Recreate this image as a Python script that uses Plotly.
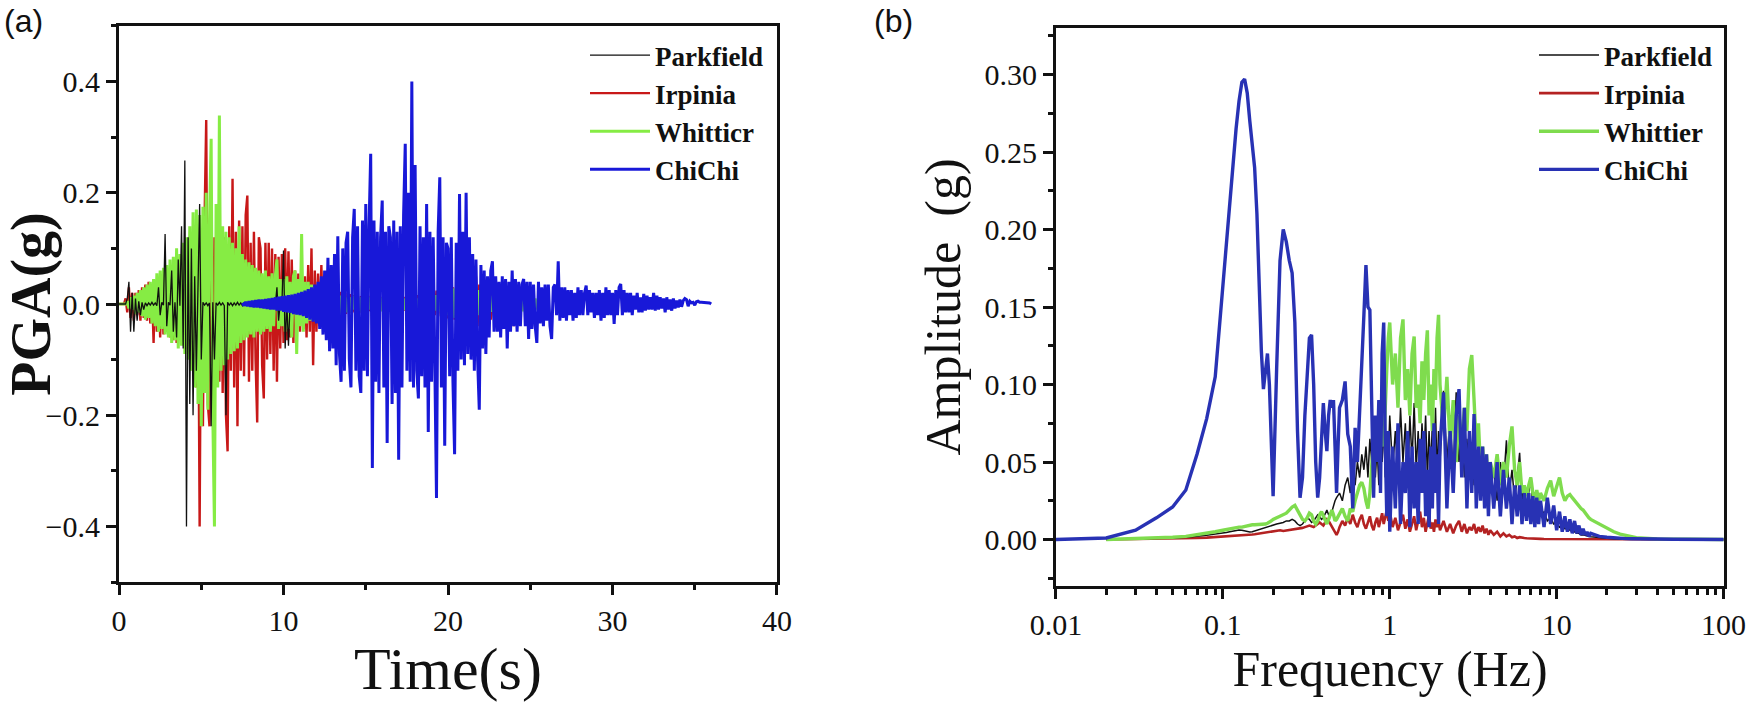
import plotly.graph_objects as go

# time step of the acceleration records (s)
DT = 0.1
CHICHI_T0 = 7.5

PARKFIELD_PGA = [
    0, 0, 0, 0, 0, 0.01, 0.04, -0.05, 0.02, -0.05,
    0.01, -0.03, 0.005, -0.02, 0.003, -0.01, 0.002, -0.003, 0.002, -0.002,
    0.003, -0.002, 0.002, -0.003, 0.03, -0.02, 0.003, -0.002, 0.126, -0.04,
    0.003, -0.002, 0.06, -0.05, 0.003, -0.06, 0.08, -0.003, 0.14, -0.08,
    0.258, -0.4, 0.12, -0.18, 0.1, -0.2, 0.05, -0.12, 0.003, 0.18,
    -0.1, 0.003, -0.002, 0.002, -0.003, 0.002, -0.22, 0.003, -0.1, 0.002,
    -0.002, 0.003, -0.002, 0.002, -0.003, -0.2, 0.003, -0.002, 0.002, -0.003,
    0.002, -0.002, 0.003, -0.002, 0.002, -0.003, 0.002, -0.002, 0.002, -0.002,
    0.003, -0.002, 0.002, -0.003, 0.002, -0.002, 0.003, -0.002, 0.002, -0.003,
    0.002, -0.003, 0.002, -0.002, 0.003, -0.002, 0.03, -0.03, 0.002, -0.002,
    0.096, -0.08, 0.003, -0.075, 0.002, -0.002, 0.003, -0.002, 0.002, -0.002,
    0.002, -0.002, 0.002, -0.002, 0.002, -0.002, 0.001, -0.001, 0.001, -0.001,
    0.001, -0.001, 0.001, -0.001, 0.001, -0.001, 0.001, -0.001, 0.001, 0.0,
]

IRPINIA_PGA = [
    0, 0, 0, 0, 0.01, -0.015, 0.03, -0.025, 0.02, -0.03,
    0.02, -0.02, 0.025, -0.03, 0.03, -0.025, 0.035, -0.03, 0.04, -0.035,
    0.03, -0.07, 0.04, -0.05, 0.045, -0.06, 0.05, -0.055, 0.06, -0.05,
    0.055, -0.06, 0.06, -0.065, 0.05, -0.07, 0.065, -0.06, 0.07, -0.065,
    0.075, -0.08, 0.08, -0.1, 0.09, -0.12, 0.1, -0.15, 0.12, -0.4,
    0.13, -0.22, 0.15, 0.331, -0.18, -0.22, 0.1, -0.15, 0.12, -0.13,
    0.11, -0.14, 0.13, -0.16, 0.12, -0.2, -0.265, 0.14, -0.12, 0.225,
    -0.15, 0.13, -0.22, 0.15, -0.12, 0.14, -0.13, 0.16, 0.195, -0.14,
    0.11, -0.12, 0.13, -0.1, -0.213, 0.12, 0.1, -0.11, -0.17, 0.11,
    -0.1, 0.11, -0.09, 0.1, -0.12, 0.09, -0.14, 0.085, -0.08, 0.09,
    -0.07, 0.1, -0.065, 0.095, -0.06, 0.08, -0.07, 0.06, -0.05, 0.055,
    -0.05, 0.06, -0.045, 0.05, -0.06, 0.07, -0.05, 0.1, -0.11, 0.06,
    -0.05, 0.055, -0.04, 0.07, -0.035, 0.04, -0.03, 0.035, -0.028, 0.03,
    -0.025, 0.028, -0.022, 0.025, -0.02, 0.022, -0.02, 0.02, -0.018, 0.02,
    -0.016, 0.018, -0.015, 0.016, -0.014, 0.015, -0.016, 0.014, -0.012, 0.015,
    -0.014, 0.012, -0.013, 0.015, -0.012, 0.013, -0.015, 0.012, -0.014, 0.013,
    -0.012, 0.014, -0.013, 0.012, -0.014, 0.015, -0.012, 0.013, -0.015, 0.014,
    -0.013, 0.015, -0.014, 0.013, -0.012, 0.014, -0.013, 0.015, -0.014, 0.012,
    -0.015, 0.016, -0.014, 0.018, -0.016, 0.017, -0.018, 0.02, -0.017, 0.019,
    -0.02, 0.022, -0.02, 0.024, -0.022, 0.025, -0.024, 0.026, -0.025, 0.028,
    -0.026, 0.028, -0.025, 0.03, -0.028, 0.027, -0.03, 0.032, 0.03, -0.028,
    0.03, -0.032, 0.028, -0.03, 0.032, -0.03, 0.035, 0.05, -0.04, 0.035,
    -0.04, 0.03, -0.035, 0.028, -0.03, 0.025, -0.028, 0.022, -0.025, 0.02,
    -0.022, 0.02, -0.02, 0.018, -0.02, 0.016, -0.025, 0.018, -0.03, 0.02,
    -0.04, 0.022, -0.02, 0.015, -0.012, 0.01, -0.008, 0.006, -0.004, 0.0,
]

WHITTIER_PGA = [
    0, 0, 0, 0, 0, 0.005, -0.008, 0.012, -0.01, 0.015,
    -0.018, 0.02, -0.015, 0.025, -0.022, 0.03, -0.028, 0.035, -0.025, 0.04,
    -0.035, 0.045, -0.04, 0.055, -0.05, 0.06, -0.045, 0.065, -0.055, 0.07,
    -0.06, 0.08, -0.07, 0.085, -0.065, 0.1, -0.08, 0.09, -0.075, 0.11,
    -0.09, 0.12, -0.1, 0.14, -0.12, 0.165, -0.15, 0.17, -0.18, 0.16,
    -0.22, 0.175, -0.16, 0.2, -0.19, 0.15, 0.297, -0.2, -0.4, 0.18,
    -0.15, 0.339, -0.12, 0.14, -0.11, 0.13, -0.1, 0.12, -0.09, 0.11,
    -0.085, 0.1, -0.08, 0.14, -0.07, 0.09, -0.065, 0.08, -0.06, 0.075,
    -0.055, 0.07, -0.06, 0.065, -0.05, 0.06, -0.055, 0.055, -0.05, 0.06,
    -0.045, 0.05, -0.05, 0.055, -0.04, 0.05, 0.08, -0.045, 0.045, -0.04,
    0.045, -0.05, 0.05, -0.045, 0.04, -0.06, 0.05, 0.06, -0.09, 0.045,
    -0.04, 0.126, -0.05, 0.04, -0.035, 0.04, -0.03, 0.035, -0.03, 0.03,
    -0.025, 0.03, -0.025, 0.028, -0.02, 0.025, -0.022, 0.02, -0.02, 0.022,
    -0.018, 0.02, -0.015, 0.018, -0.02, 0.015, -0.012, 0.018, -0.015, 0.012,
    -0.015, 0.012, -0.01, 0.015, -0.012, 0.01, -0.015, 0.012, -0.01, 0.012,
    -0.012, 0.015, -0.01, 0.012, -0.014, 0.01, -0.012, 0.014, -0.01, 0.012,
    -0.013, 0.011, -0.012, 0.014, -0.01, 0.012, -0.011, 0.01, -0.013, 0.012,
    -0.01, 0.013, -0.012, 0.01, -0.011, 0.014, -0.012, 0.011, -0.01, 0.012,
    -0.012, 0.01, -0.013, 0.012, -0.01, 0.015, -0.012, 0.013, -0.014, 0.012,
    -0.015, 0.014, -0.012, 0.016, -0.014, 0.018, -0.015, 0.02, -0.018, 0.022,
    -0.02, 0.025, -0.022, 0.028, -0.025, 0.03, -0.028, 0.035, 0.04, -0.035,
    0.045, -0.04, 0.035, -0.045, 0.04, -0.03, 0.03, -0.025, 0.025, -0.02,
    0.02, -0.018, 0.018, -0.015, 0.016, -0.015, 0.015, -0.014, 0.014, -0.012,
    0.015, -0.013, 0.012, -0.014, 0.013, -0.012, 0.012, -0.01, 0.013, -0.011,
    0.012, -0.012, 0.014, -0.01, 0.015, -0.013, 0.018, -0.015, 0.02, 0.03,
    -0.02, 0.015, -0.012, 0.01, -0.01, 0.008, -0.006, 0.005, -0.004, 0.0,
]

CHICHI_PGA = [
    0.002, -0.003, 0.004, -0.004, 0.005,
    -0.005, 0.006, -0.006, 0.007, -0.006, 0.008, -0.007, 0.008, -0.008, 0.009,
    -0.009, 0.01, -0.01, 0.011, -0.01, 0.012, -0.012, 0.013, -0.012, 0.014,
    -0.014, 0.015, -0.015, 0.016, -0.016, 0.017, -0.018, 0.018, -0.019, 0.02,
    -0.02, 0.022, -0.022, 0.024, -0.025, 0.027, -0.028, 0.03, -0.032, 0.035,
    -0.035, 0.04, -0.045, 0.05, -0.055, 0.06, -0.065, 0.083, -0.085, 0.07,
    -0.08, 0.09, -0.11, 0.122, -0.09, -0.14, 0.1, -0.12, 0.11, 0.13,
    -0.1, -0.15, 0.12, 0.171, -0.12, 0.14, -0.13, -0.16, 0.15, -0.12,
    0.18, -0.13, 0.14, 0.27, -0.295, 0.15, -0.14, 0.13, -0.16, 0.12,
    0.186, -0.15, 0.13, -0.25, 0.14, 0.12, -0.18, 0.15, -0.16, 0.13,
    -0.28, 0.14, -0.15, 0.16, 0.288, -0.12, 0.2, -0.14, 0.4, -0.15,
    0.25, -0.12, -0.17, 0.14, -0.13, 0.12, -0.15, 0.18, -0.23, 0.13,
    -0.14, 0.12, -0.16, -0.349, 0.13, 0.228, -0.15, 0.12, -0.255, 0.11,
    0.1, -0.13, 0.12, -0.14, -0.27, 0.11, -0.12, 0.198, -0.1, 0.13,
    -0.11, 0.2, -0.09, 0.12, -0.1, 0.09, -0.12, 0.08, -0.1, -0.19,
    0.07, -0.08, 0.06, -0.09, 0.05, -0.06, 0.06, 0.077, -0.05, 0.05,
    -0.05, 0.04, -0.06, 0.05, -0.045, 0.045, -0.08, 0.04, -0.05, 0.06,
    -0.04, 0.045, -0.05, 0.04, -0.04, 0.035, 0.045, -0.04, 0.04, -0.063,
    0.04, -0.045, 0.035, -0.04, -0.07, 0.04, -0.035, 0.03, -0.04, 0.035,
    -0.03, 0.035, -0.04, -0.063, 0.03, 0.035, -0.02, 0.077, -0.03, 0.03,
    -0.025, 0.03, -0.03, 0.025, -0.02, 0.025, -0.03, 0.02, -0.025, 0.03,
    -0.02, 0.025, -0.02, 0.02, 0.033, -0.02, 0.025, -0.015, 0.02, -0.025,
    0.02, -0.02, 0.025, -0.03, 0.02, -0.025, 0.03, -0.02, 0.025, -0.02,
    0.02, -0.036, 0.025, -0.02, 0.03, 0.036, -0.02, 0.025, -0.015, 0.02,
    -0.015, 0.02, -0.02, 0.015, -0.01, 0.02, -0.015, 0.012, -0.015, 0.018,
    -0.012, 0.015, -0.01, 0.012, -0.01, 0.02, -0.012, 0.015, -0.01, 0.012,
    -0.008, 0.01, -0.015, 0.012, -0.01, 0.008, -0.012, 0.01, -0.008, 0.006,
    -0.006, 0.008, -0.005, 0.006, 0.01, 0.008, -0.004, 0.005, 0.002, 0.003,
    -0.002, 0.004, 0.005, 0.003, 0.003, 0.003, 0.003, 0.002, 0.002, 0.002,
    0.0,
]

FREQ_HZ = [
    0.01, 0.02, 0.03, 0.04, 0.05, 0.06, 0.07, 0.08, 0.09,
    0.100, 0.105, 0.110, 0.115, 0.120, 0.125, 0.130, 0.135, 0.140, 0.145,
    0.150, 0.155, 0.160, 0.165, 0.170, 0.175, 0.180, 0.185, 0.190, 0.195,
    0.20, 0.21, 0.22, 0.23, 0.24, 0.25, 0.26, 0.27, 0.28, 0.29,
    0.30, 0.31, 0.32, 0.33, 0.34, 0.35, 0.36, 0.37, 0.38, 0.39,
    0.40, 0.41, 0.42, 0.43, 0.44, 0.45, 0.46, 0.47, 0.48, 0.49,
    0.50, 0.52, 0.54, 0.56, 0.58, 0.60, 0.62, 0.64, 0.66, 0.68, 0.70, 0.72, 0.74,
    0.76, 0.78, 0.80, 0.82, 0.84, 0.86, 0.88, 0.90, 0.92, 0.94, 0.96, 0.98,
    1.00, 1.04, 1.08, 1.12, 1.16, 1.20, 1.24, 1.28, 1.32, 1.36, 1.40, 1.44, 1.48,
    1.52, 1.56, 1.60, 1.64, 1.68, 1.72, 1.76, 1.80, 1.84, 1.88, 1.92, 1.96,
    2.0, 2.1, 2.2, 2.3, 2.4, 2.5, 2.6, 2.7, 2.8, 2.9,
    3.0, 3.1, 3.2, 3.3, 3.4, 3.5, 3.6, 3.7, 3.8, 3.9,
    4.0, 4.2, 4.4, 4.6, 4.8, 5.0, 5.2, 5.4, 5.6, 5.8,
    6.0, 6.2, 6.4, 6.6, 6.8, 7.0, 7.2, 7.4, 7.6, 7.8,
    8.0, 8.4, 8.8, 9.2, 9.6, 10.0, 10.4, 10.8, 11.2, 11.6,
    12.0, 12.4, 12.8, 13.2, 13.6, 14.0, 14.4, 14.8, 15.2, 15.6,
    16, 18, 20, 22, 24, 26, 28,
    30, 40, 50, 60, 70, 80, 90, 100,
]

PARKFIELD_FAS = [
    None, 0.0, 0.0003, 0.0006, 0.001, 0.0015, 0.002, 0.0028, 0.0035,
    0.004, 0.0045, 0.005, 0.0055, 0.006, 0.0062, 0.006, 0.0055, 0.005, 0.0048,
    0.005, 0.0055, 0.006, 0.0065, 0.007, 0.0075, 0.008, 0.0082, 0.0085, 0.009,
    0.0095, 0.01, 0.0105, 0.011, 0.012, 0.012, 0.013, 0.012, 0.01, 0.009,
    0.01, 0.012, 0.014, 0.013, 0.011, 0.012, 0.014, 0.016, 0.015, 0.013,
    0.014, 0.017, 0.019, 0.016, 0.015, 0.018, 0.022, 0.025, 0.027, 0.029,
    0.03, 0.025, 0.035, 0.04, 0.03, 0.045, 0.035, 0.05, 0.04, 0.055, 0.045, 0.06, 0.04,
    0.065, 0.05, 0.07, 0.04, 0.06, 0.035, 0.065, 0.05, 0.075, 0.04, 0.07, 0.05,
    0.08, 0.045, 0.07, 0.04, 0.085, 0.05, 0.075, 0.035, 0.08, 0.05, 0.088, 0.045, 0.07,
    0.04, 0.075, 0.05, 0.08, 0.04, 0.07, 0.045, 0.075, 0.05, 0.085, 0.04, 0.07,
    0.05, 0.096, 0.05, 0.08, 0.04, 0.095, 0.05, 0.07, 0.04, 0.065,
    0.04, 0.06, 0.035, 0.055, 0.03, 0.05, 0.03, 0.045, 0.025, 0.04,
    0.03, 0.045, 0.025, 0.05, 0.035, 0.064, 0.03, 0.045, 0.025, 0.04,
    0.056, 0.025, 0.035, 0.02, 0.03, 0.04, 0.02, 0.025, 0.015, 0.02,
    0.015, 0.018, 0.012, 0.014, 0.01, 0.011, 0.008, 0.009, 0.007, 0.007,
    0.006, 0.005, 0.005, 0.004, 0.004, 0.003, 0.003, 0.0025, 0.002, 0.002,
    0.0018, 0.0012, 0.0008, 0.0005, 0.0004, 0.0003, 0.0002,
    0.0001, 0.0, 0.0, 0.0, 0.0, 0.0, 0.0, 0.0,
]

IRPINIA_FAS = [
    None, 0.0, 0.0002, 0.0004, 0.0006, 0.0008, 0.001, 0.0012, 0.0015,
    0.0018, 0.002, 0.0022, 0.0024, 0.0025, 0.0026, 0.0027, 0.0028, 0.003, 0.003,
    0.0032, 0.0034, 0.0036, 0.0038, 0.004, 0.0042, 0.0045, 0.0048, 0.005, 0.0052,
    0.0052, 0.0055, 0.006, 0.0055, 0.0058, 0.006, 0.0062, 0.0065, 0.0068, 0.007,
    0.0075, 0.008, 0.0085, 0.009, 0.0085, 0.008, 0.009, 0.01, 0.011, 0.01,
    0.009, 0.011, 0.013, 0.012, 0.01, 0.008, 0.006, 0.004, 0.003, 0.005,
    0.008, 0.012, 0.009, 0.014, 0.01, 0.016, 0.011, 0.008, 0.013, 0.016, 0.01, 0.007, 0.012,
    0.015, 0.009, 0.006, 0.011, 0.014, 0.008, 0.012, 0.017, 0.01, 0.015, 0.019, 0.012,
    0.018, 0.008, 0.014, 0.006, 0.012, 0.016, 0.007, 0.013, 0.005, 0.011, 0.015, 0.006, 0.012,
    0.018, 0.008, 0.014, 0.005, 0.012, 0.016, 0.007, 0.011, 0.005, 0.013, 0.008, 0.012,
    0.006, 0.012, 0.005, 0.01, 0.004, 0.009, 0.012, 0.005, 0.01, 0.004,
    0.008, 0.006, 0.01, 0.004, 0.008, 0.005, 0.009, 0.004, 0.007, 0.003,
    0.006, 0.003, 0.005, 0.002, 0.004, 0.002, 0.003, 0.0015, 0.002, 0.001,
    0.0015, 0.001, 0.001, 0.0008, 0.0008, 0.0006, 0.0006, 0.0005, 0.0005, 0.0004,
    0.0004, 0.0003, 0.0003, 0.0003, 0.0002, 0.0002, 0.0002, 0.0002, 0.0002, 0.0002,
    0.0001, 0.0001, 0.0001, 0.0001, 0.0001, 0.0001, 0.0001, 0.0001, 0.0001, 0.0001,
    0.0001, 0.0001, 0.0001, 0.0001, 0.0, 0.0, 0.0,
    0.0, 0.0, 0.0, 0.0, 0.0, 0.0, 0.0, 0.0,
]

WHITTIER_FAS = [
    None, 0.0, 0.0005, 0.001, 0.0015, 0.002, 0.003, 0.004, 0.005,
    0.006, 0.0065, 0.007, 0.007, 0.0075, 0.008, 0.008, 0.0085, 0.009, 0.009,
    0.0095, 0.0095, 0.0095, 0.01, 0.01, 0.01, 0.01, 0.0105, 0.011, 0.012,
    0.013, 0.014, 0.015, 0.016, 0.017, 0.019, 0.021, 0.022, 0.019, 0.016,
    0.013, 0.012, 0.014, 0.017, 0.016, 0.012, 0.01, 0.012, 0.016, 0.018,
    0.015, 0.012, 0.01, 0.013, 0.017, 0.019, 0.016, 0.012, 0.013, 0.015,
    0.017, 0.02, 0.015, 0.012, 0.02, 0.018, 0.025, 0.03, 0.035, 0.037, 0.033, 0.025, 0.02,
    0.03, 0.05, 0.065, 0.078, 0.076, 0.06, 0.07, 0.075, 0.06, 0.09, 0.11, 0.13,
    0.14, 0.1, 0.12, 0.085, 0.13, 0.142, 0.09, 0.11, 0.08, 0.12, 0.131, 0.085, 0.1,
    0.075, 0.115, 0.09, 0.12, 0.135, 0.08, 0.1, 0.07, 0.11, 0.09, 0.13, 0.145,
    0.1, 0.07, 0.105, 0.06, 0.09, 0.05, 0.08, 0.06, 0.085, 0.07,
    0.11, 0.119, 0.09, 0.06, 0.075, 0.045, 0.06, 0.04, 0.055, 0.035,
    0.05, 0.04, 0.055, 0.035, 0.05, 0.04, 0.06, 0.073, 0.045, 0.035,
    0.05, 0.03, 0.035, 0.028, 0.035, 0.04, 0.03, 0.025, 0.032, 0.025,
    0.03, 0.025, 0.033, 0.038, 0.028, 0.035, 0.04, 0.03, 0.025, 0.028,
    0.029, 0.027, 0.025, 0.023, 0.022, 0.02, 0.019, 0.017, 0.015, 0.014,
    0.013, 0.01, 0.007, 0.005, 0.0035, 0.0025, 0.0018,
    0.0012, 0.0004, 0.0002, 0.0001, 0.0001, 0.0, 0.0, 0.0,
]

CHICHI_FAS = [
    0.0, 0.001, 0.006, 0.014, 0.021, 0.032, 0.055, 0.078, 0.105,
    0.163, 0.19, 0.22, 0.244, 0.265, 0.283, 0.295, 0.297, 0.288, 0.27,
    0.255, 0.24, 0.21, 0.165, 0.122, 0.097, 0.11, 0.12, 0.1, 0.06,
    0.028, 0.11, 0.18, 0.2, 0.192, 0.18, 0.172, 0.14, 0.07, 0.027,
    0.04, 0.08, 0.11, 0.13, 0.132, 0.1, 0.05, 0.027, 0.04, 0.06,
    0.088, 0.07, 0.057, 0.08, 0.09, 0.085, 0.09, 0.06, 0.03, 0.06,
    0.085, 0.09, 0.102, 0.068, 0.06, 0.02, 0.072, 0.05, 0.08, 0.11, 0.145, 0.177, 0.15,
    0.148, 0.09, 0.027, 0.08, 0.05, 0.09, 0.03, 0.12, 0.14, 0.06, 0.015, 0.07,
    0.005, 0.06, 0.02, 0.075, 0.01, 0.05, 0.03, 0.07, 0.008, 0.06, 0.02, 0.05, 0.01,
    0.065, 0.03, 0.07, 0.015, 0.045, 0.008, 0.06, 0.02, 0.075, 0.03, 0.055, 0.01,
    0.06, 0.095, 0.02, 0.07, 0.03, 0.08, 0.097, 0.04, 0.085, 0.02,
    0.07, 0.03, 0.081, 0.02, 0.06, 0.025, 0.06, 0.02, 0.055, 0.015,
    0.05, 0.02, 0.05, 0.015, 0.045, 0.02, 0.04, 0.01, 0.035, 0.015,
    0.035, 0.01, 0.03, 0.012, 0.03, 0.01, 0.028, 0.008, 0.027, 0.01,
    0.025, 0.008, 0.027, 0.01, 0.022, 0.006, 0.018, 0.005, 0.015, 0.005,
    0.013, 0.004, 0.012, 0.004, 0.009, 0.003, 0.007, 0.003, 0.005, 0.002,
    0.004, 0.002, 0.0015, 0.001, 0.0008, 0.0006, 0.0005,
    0.0004, 0.0003, 0.0002, 0.0002, 0.0001, 0.0001, 0.0001, 0.0,
]

SERIF = "Liberation Serif"
BLACK = "#111111"
W, H = 1748, 702

# panel placement (paper fractions) and axis ranges
LEFT_X = [0.0681, 0.4445]
LEFT_Y = [0.1709, 0.963]
RIGHT_X = [0.6041, 0.9863]
RIGHT_Y = [0.1652, 0.9601]
T_RANGE = [0, 40]
PGA_RANGE = [-0.5, 0.5]
F_RANGE_LOG = [-2, 2.003]
FAS_RANGE = [-0.03, 0.33]

fig = go.Figure()

# (a) acceleration time histories - drawing order: red, green, black, blue
fig.add_trace(go.Scatter(y=IRPINIA_PGA, x0=0, dx=DT, mode="lines", name="Irpinia",
                         line=dict(color="#c81818", width=2.4), legendrank=2, legend="legend"))
fig.add_trace(go.Scatter(y=WHITTIER_PGA, x0=0, dx=DT, mode="lines", name="Whitticr",
                         line=dict(color="#86ec44", width=3), legendrank=3, legend="legend"))
fig.add_trace(go.Scatter(y=PARKFIELD_PGA, x0=0, dx=DT, mode="lines", name="Parkfield",
                         line=dict(color=BLACK, width=1.3), legendrank=1, legend="legend"))
fig.add_trace(go.Scatter(y=CHICHI_PGA, x0=CHICHI_T0, dx=DT, mode="lines", name="ChiChi",
                         line=dict(color="#1818d8", width=3), legendrank=4, legend="legend"))

# (b) Fourier amplitude spectra
fig.add_trace(go.Scatter(x=FREQ_HZ, y=IRPINIA_FAS, mode="lines", name="Irpinia",
                         line=dict(color="#b42222", width=2.6), legendrank=2,
                         xaxis="x2", yaxis="y2", legend="legend2"))
fig.add_trace(go.Scatter(x=FREQ_HZ, y=PARKFIELD_FAS, mode="lines", name="Parkfield",
                         line=dict(color=BLACK, width=1.5), legendrank=1,
                         xaxis="x2", yaxis="y2", legend="legend2"))
fig.add_trace(go.Scatter(x=FREQ_HZ, y=WHITTIER_FAS, mode="lines", name="Whittier",
                         line=dict(color="#7fdc4e", width=3.4), legendrank=3,
                         xaxis="x2", yaxis="y2", legend="legend2"))
fig.add_trace(go.Scatter(x=FREQ_HZ, y=CHICHI_FAS, mode="lines", name="ChiChi",
                         line=dict(color="#2832b4", width=3.4), legendrank=4,
                         xaxis="x2", yaxis="y2", legend="legend2"))

axis_common = dict(
    showline=True, linewidth=3, linecolor=BLACK, mirror=True,
    showgrid=False, zeroline=False,
    ticks="outside", ticklen=10, tickwidth=3, tickcolor=BLACK,
    tickfont=dict(family=SERIF, size=30, color=BLACK),
    automargin=False,
)

# bare axes on the top / right sides, only to close the frame of each panel
frame_axis = dict(
    showline=True, linewidth=3, linecolor=BLACK,
    showgrid=False, zeroline=False, ticks="", showticklabels=False,
    automargin=False, fixedrange=True,
)

legend_common = dict(
    xanchor="left", yanchor="top", bgcolor="rgba(0,0,0,0)",
    font=dict(family=SERIF, size=27, color=BLACK, weight="bold"),
    traceorder="normal", itemwidth=60, tracegroupgap=0,
)

fig.update_layout(
    width=W, height=H,
    margin=dict(l=0, r=0, t=0, b=0, autoexpand=False),
    paper_bgcolor="white", plot_bgcolor="white",
    showlegend=True,
    xaxis=dict(
        axis_common, domain=LEFT_X, range=T_RANGE, dtick=10, tick0=0,
        minor=dict(dtick=5, ticks="outside", ticklen=5, tickwidth=3, tickcolor=BLACK, showgrid=False),
        title=dict(text="Time(s)", font=dict(family=SERIF, size=60, color=BLACK), standoff=8),
        anchor="y",
    ),
    yaxis=dict(
        axis_common, domain=LEFT_Y, range=PGA_RANGE, dtick=0.2, tick0=0,
        tickformat=".1f",
        minor=dict(dtick=0.1, ticks="outside", ticklen=5, tickwidth=3, tickcolor=BLACK, showgrid=False),
        title=dict(text="PGA(g)", font=dict(family=SERIF, size=56, color=BLACK, weight="bold"), standoff=4),
        anchor="x",
    ),
    xaxis2=dict(
        axis_common, type="log", domain=RIGHT_X, range=F_RANGE_LOG,
        tickvals=[0.01, 0.1, 1, 10, 100], ticktext=["0.01", "0.1", "1", "10", "100"],
        minor=dict(dtick="D1", ticks="outside", ticklen=6, tickwidth=3, tickcolor=BLACK, showgrid=False),
        title=dict(text="Frequency\u00a0(Hz)", font=dict(family=SERIF, size=50, color=BLACK), standoff=6),
        anchor="y2",
    ),
    yaxis2=dict(
        axis_common, domain=RIGHT_Y, range=FAS_RANGE, dtick=0.05, tick0=0,
        tickformat=".2f",
        minor=dict(dtick=0.025, ticks="outside", ticklen=5, tickwidth=3, tickcolor=BLACK, showgrid=False),
        title=dict(text="Amplitude\u00a0\u00a0(g)", font=dict(family=SERIF, size=50, color=BLACK), standoff=8),
        anchor="x2",
    ),
    xaxis3=dict(frame_axis, overlaying="x", side="top", anchor="y", range=T_RANGE),
    yaxis3=dict(frame_axis, overlaying="y", side="right", anchor="x", range=PGA_RANGE),
    xaxis4=dict(frame_axis, overlaying="x2", side="top", anchor="y2", type="log", range=F_RANGE_LOG),
    yaxis4=dict(frame_axis, overlaying="y2", side="right", anchor="x2", range=FAS_RANGE),
    legend=dict(legend_common, x=585 / W, y=1 - 31 / H),
    legend2=dict(legend_common, x=1534 / W, y=1 - 31 / H),
    annotations=[
        dict(text="(a)", xref="paper", yref="paper", x=0.001, y=0.999, xanchor="left", yanchor="top",
             showarrow=False, font=dict(family="Liberation Sans", size=32, color=BLACK)),
        dict(text="(b)", xref="paper", yref="paper", x=872 / W, y=0.999, xanchor="left", yanchor="top",
             showarrow=False, font=dict(family="Liberation Sans", size=32, color=BLACK)),
    ],
)

fig.write_html("out.html", config={"displayModeBar": False},
               post_script="document.body.style.margin='0';")
